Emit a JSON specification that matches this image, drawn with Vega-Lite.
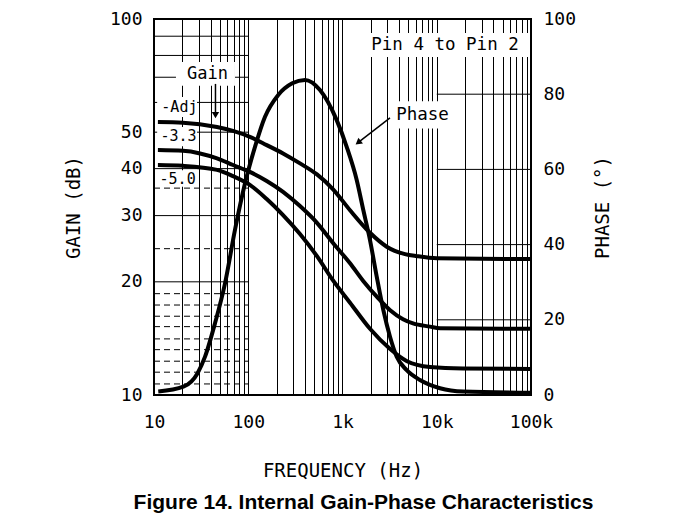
{
  "$schema": "https://vega.github.io/schema/vega-lite/v6.json",
  "autosize": {"type": "none"},
  "width": 377,
  "height": 376,
  "padding": {"left": 154, "top": 19, "right": 142, "bottom": 122},
  "background": "white",
  "config": {
    "view": {"stroke": "black", "strokeWidth": 2},
    "axis": {
      "labelFont": "DejaVu Sans Mono",
      "labelFontSize": 18,
      "labelColor": "black",
      "titleFont": "DejaVu Sans Mono",
      "titleFontSize": 19,
      "titleFontWeight": "normal",
      "titleColor": "black",
      "ticks": false,
      "domain": false
    }
  },
  "title": {
    "text": "Figure 14. Internal Gain-Phase Characteristics",
    "orient": "bottom",
    "anchor": "middle",
    "font": "Liberation Sans",
    "fontWeight": "bold",
    "fontSize": 21,
    "color": "black",
    "offset": 12,
    "dx": 21
  },
  "datasets": {
    "gain": [
      {"series": "Adj", "f": 11, "g": 53.2},
      {"series": "Adj", "f": 20.3, "g": 53.0},
      {"series": "Adj", "f": 46.6, "g": 51.6},
      {"series": "Adj", "f": 68.9, "g": 50.4},
      {"series": "Adj", "f": 104, "g": 48.6},
      {"series": "Adj", "f": 157, "g": 46.2},
      {"series": "Adj", "f": 234, "g": 43.9},
      {"series": "Adj", "f": 354, "g": 41.3},
      {"series": "Adj", "f": 536, "g": 38.6},
      {"series": "Adj", "f": 790, "g": 35.3},
      {"series": "Adj", "f": 1202, "g": 31.0},
      {"series": "Adj", "f": 1958, "g": 27.0},
      {"series": "Adj", "f": 2944, "g": 24.8},
      {"series": "Adj", "f": 4603, "g": 23.7},
      {"series": "Adj", "f": 6173, "g": 23.4},
      {"series": "Adj", "f": 10000, "g": 23.1},
      {"series": "Adj", "f": 100000, "g": 23.0},
      {"series": "-3.3", "f": 11, "g": 44.8},
      {"series": "-3.3", "f": 20.3, "g": 44.6},
      {"series": "-3.3", "f": 30.8, "g": 43.9},
      {"series": "-3.3", "f": 46.6, "g": 42.6},
      {"series": "-3.3", "f": 68.9, "g": 40.9},
      {"series": "-3.3", "f": 104, "g": 39.2},
      {"series": "-3.3", "f": 157, "g": 37.1},
      {"series": "-3.3", "f": 234, "g": 34.7},
      {"series": "-3.3", "f": 354, "g": 31.8},
      {"series": "-3.3", "f": 536, "g": 28.7},
      {"series": "-3.3", "f": 790, "g": 25.4},
      {"series": "-3.3", "f": 1202, "g": 22.4},
      {"series": "-3.3", "f": 1659, "g": 20.1},
      {"series": "-3.3", "f": 2336, "g": 18.2},
      {"series": "-3.3", "f": 3202, "g": 16.8},
      {"series": "-3.3", "f": 4389, "g": 15.9},
      {"series": "-3.3", "f": 5600, "g": 15.5},
      {"series": "-3.3", "f": 8485, "g": 15.2},
      {"series": "-3.3", "f": 10830, "g": 15.05},
      {"series": "-3.3", "f": 100000, "g": 15.0},
      {"series": "-5.0", "f": 11, "g": 40.9},
      {"series": "-5.0", "f": 20.3, "g": 40.7},
      {"series": "-5.0", "f": 46.6, "g": 39.7},
      {"series": "-5.0", "f": 68.9, "g": 38.2},
      {"series": "-5.0", "f": 104, "g": 36.2},
      {"series": "-5.0", "f": 157, "g": 33.2},
      {"series": "-5.0", "f": 234, "g": 30.1},
      {"series": "-5.0", "f": 354, "g": 26.8},
      {"series": "-5.0", "f": 536, "g": 23.4},
      {"series": "-5.0", "f": 790, "g": 20.2},
      {"series": "-5.0", "f": 1202, "g": 17.6},
      {"series": "-5.0", "f": 1958, "g": 15.0},
      {"series": "-5.0", "f": 3202, "g": 13.25},
      {"series": "-5.0", "f": 4831, "g": 12.3},
      {"series": "-5.0", "f": 8485, "g": 11.87},
      {"series": "-5.0", "f": 19040, "g": 11.76},
      {"series": "-5.0", "f": 100000, "g": 11.73}
    ],
    "phase": [
      {"f": 11.1, "p": 0.9},
      {"f": 20.5, "p": 2.2},
      {"f": 29, "p": 5.8},
      {"f": 34.8, "p": 10.2},
      {"f": 44.4, "p": 19.1},
      {"f": 56.7, "p": 29.7},
      {"f": 72.3, "p": 43.9},
      {"f": 92.4, "p": 56.3},
      {"f": 117.9, "p": 66.0},
      {"f": 150.6, "p": 74.0},
      {"f": 208, "p": 79.8},
      {"f": 293, "p": 82.9},
      {"f": 400, "p": 83.8},
      {"f": 577, "p": 81.1},
      {"f": 868, "p": 73.1},
      {"f": 1108, "p": 66.0},
      {"f": 1415, "p": 57.2},
      {"f": 1662, "p": 49.2},
      {"f": 1958, "p": 41.2},
      {"f": 2307, "p": 31.5},
      {"f": 2711, "p": 22.6},
      {"f": 3192, "p": 15.5},
      {"f": 3758, "p": 10.2},
      {"f": 4800, "p": 6.6},
      {"f": 6637, "p": 4.0},
      {"f": 10830, "p": 1.8},
      {"f": 19150, "p": 0.9},
      {"f": 100000, "p": 0.6}
    ],
    "gridSolid": [{"f": 10, "f2": 100, "g": 20}, {"f": 10, "f2": 100, "g": 30}, {"f": 10, "f2": 100, "g": 40}, {"f": 10, "f2": 100, "g": 50}, {"f": 10, "f2": 100, "g": 60}, {"f": 10, "f2": 100, "g": 70}, {"f": 10, "f2": 100, "g": 80}, {"f": 10, "f2": 100, "g": 90}],
    "gridDashed": [{"f": 10, "f2": 100, "g": 35.5}, {"f": 10, "f2": 100, "g": 24.5}, {"f": 10, "f2": 100, "g": 18.6}, {"f": 10, "f2": 100, "g": 17.35}, {"f": 10, "f2": 100, "g": 16.2}, {"f": 10, "f2": 100, "g": 15.2}, {"f": 10, "f2": 100, "g": 14.1}, {"f": 10, "f2": 100, "g": 13.2}, {"f": 10, "f2": 100, "g": 12.3}, {"f": 10, "f2": 100, "g": 11.5}, {"f": 10, "f2": 100, "g": 10.7}],
    "gridPhase": [{"f": 10000, "f2": 100000, "p": 20}, {"f": 10000, "f2": 100000, "p": 40}, {"f": 10000, "f2": 100000, "p": 60}, {"f": 10000, "f2": 100000, "p": 80}],
    "boxG": [
      {"f": 17.1, "f2": 72.3, "g": 66.4, "g2": 76.8},
      {"f": 10.8, "f2": 28.6, "g": 54.9, "g2": 62.0},
      {"f": 10.8, "f2": 28.6, "g": 45.9, "g2": 51.6},
      {"f": 10.8, "f2": 28.6, "g": 35.8, "g2": 39.6}
    ],
    "boxP": [
      {"f": 1776, "f2": 95300, "p": 89.9, "p2": 96.3},
      {"f": 3270, "f2": 14520, "p": 70.9, "p2": 78.1}
    ],
    "labelsBig": [{"t": "Gain", "f": 36.9, "g": 71.2}],
    "labelsSmall": [
      {"t": "-Adj", "f": 18.6, "g": 58.2},
      {"t": "-3.3", "f": 18.2, "g": 48.7},
      {"t": "-5.0", "f": 17.8, "g": 37.6}
    ],
    "labelsP": [
      {"t": "Pin 4 to Pin 2", "f": 12230, "p": 93.1},
      {"t": "Phase", "f": 7063, "p": 74.5}
    ],
    "arrowG": [{"f": 44.9, "g": 67.2, "f2": 44.9, "g2": 55.5}],
    "arrowP": [{"f": 3192, "p": 73.7, "f2": 1496, "p2": 67.3}]
  },
  "layer": [
    {
      "layer": [
        {
          "data": {"name": "gridSolid"},
          "mark": {"type": "rule", "color": "black", "strokeWidth": 1},
          "encoding": {
            "x": {"field": "f", "type": "quantitative", "scale": {"type": "log", "domain": [10, 100000], "nice": false}, "axis": {"title": "FREQUENCY (Hz)", "values": [10, 20, 30, 40, 50, 60, 70, 80, 90, 100, 200, 300, 400, 500, 600, 700, 800, 900, 1000, 2000, 3000, 4000, 5000, 6000, 7000, 8000, 9000, 10000, 20000, 30000, 40000, 50000, 60000, 70000, 80000, 90000, 100000], "labelExpr": "datum.value == 10 ? '10' : datum.value == 100 ? '100' : datum.value == 1000 ? '1k' : datum.value == 10000 ? '10k' : datum.value == 100000 ? '100k' : ''", "labelOverlap": false, "labelFlush": false, "labelBound": false, "grid": true, "gridColor": "black", "gridOpacity": 1, "gridWidth": 1, "labelPadding": 18, "titlePadding": 30}},
            "x2": {"field": "f2"},
            "y": {"field": "g", "type": "quantitative", "scale": {"type": "log", "domain": [10, 100], "nice": false}, "axis": {"title": "GAIN (dB)", "values": [10, 20, 30, 40, 50, 100], "format": "d", "grid": false, "labelPadding": 12, "titlePadding": 26}}
          }
        },
        {
          "data": {"name": "gridDashed"},
          "mark": {"type": "rule", "color": "black", "strokeWidth": 1, "strokeDash": [6, 4]},
          "encoding": {
            "x": {"field": "f", "type": "quantitative", "scale": {"type": "log", "domain": [10, 100000], "nice": false}, "axis": {"title": "FREQUENCY (Hz)", "values": [10, 20, 30, 40, 50, 60, 70, 80, 90, 100, 200, 300, 400, 500, 600, 700, 800, 900, 1000, 2000, 3000, 4000, 5000, 6000, 7000, 8000, 9000, 10000, 20000, 30000, 40000, 50000, 60000, 70000, 80000, 90000, 100000], "labelExpr": "datum.value == 10 ? '10' : datum.value == 100 ? '100' : datum.value == 1000 ? '1k' : datum.value == 10000 ? '10k' : datum.value == 100000 ? '100k' : ''", "labelOverlap": false, "labelFlush": false, "labelBound": false, "grid": true, "gridColor": "black", "gridOpacity": 1, "gridWidth": 1, "labelPadding": 18, "titlePadding": 30}},
            "x2": {"field": "f2"},
            "y": {"field": "g", "type": "quantitative", "scale": {"type": "log", "domain": [10, 100], "nice": false}, "axis": {"title": "GAIN (dB)", "values": [10, 20, 30, 40, 50, 100], "format": "d", "grid": false, "labelPadding": 12, "titlePadding": 26}}
          }
        },
        {
          "data": {"name": "boxG"},
          "mark": {"type": "rect", "fill": "white"},
          "encoding": {
            "x": {"field": "f", "type": "quantitative", "scale": {"type": "log", "domain": [10, 100000], "nice": false}, "axis": {"title": "FREQUENCY (Hz)", "values": [10, 20, 30, 40, 50, 60, 70, 80, 90, 100, 200, 300, 400, 500, 600, 700, 800, 900, 1000, 2000, 3000, 4000, 5000, 6000, 7000, 8000, 9000, 10000, 20000, 30000, 40000, 50000, 60000, 70000, 80000, 90000, 100000], "labelExpr": "datum.value == 10 ? '10' : datum.value == 100 ? '100' : datum.value == 1000 ? '1k' : datum.value == 10000 ? '10k' : datum.value == 100000 ? '100k' : ''", "labelOverlap": false, "labelFlush": false, "labelBound": false, "grid": true, "gridColor": "black", "gridOpacity": 1, "gridWidth": 1, "labelPadding": 18, "titlePadding": 30}},
            "x2": {"field": "f2"},
            "y": {"field": "g", "type": "quantitative", "scale": {"type": "log", "domain": [10, 100], "nice": false}, "axis": {"title": "GAIN (dB)", "values": [10, 20, 30, 40, 50, 100], "format": "d", "grid": false, "labelPadding": 12, "titlePadding": 26}},
            "y2": {"field": "g2"}
          }
        },
        {
          "data": {"name": "labelsBig"},
          "mark": {"type": "text", "font": "DejaVu Sans Mono", "fontSize": 17, "color": "black", "align": "center", "baseline": "middle"},
          "encoding": {
            "x": {"field": "f", "type": "quantitative", "scale": {"type": "log", "domain": [10, 100000], "nice": false}, "axis": {"title": "FREQUENCY (Hz)", "values": [10, 20, 30, 40, 50, 60, 70, 80, 90, 100, 200, 300, 400, 500, 600, 700, 800, 900, 1000, 2000, 3000, 4000, 5000, 6000, 7000, 8000, 9000, 10000, 20000, 30000, 40000, 50000, 60000, 70000, 80000, 90000, 100000], "labelExpr": "datum.value == 10 ? '10' : datum.value == 100 ? '100' : datum.value == 1000 ? '1k' : datum.value == 10000 ? '10k' : datum.value == 100000 ? '100k' : ''", "labelOverlap": false, "labelFlush": false, "labelBound": false, "grid": true, "gridColor": "black", "gridOpacity": 1, "gridWidth": 1, "labelPadding": 18, "titlePadding": 30}},
            "y": {"field": "g", "type": "quantitative", "scale": {"type": "log", "domain": [10, 100], "nice": false}, "axis": {"title": "GAIN (dB)", "values": [10, 20, 30, 40, 50, 100], "format": "d", "grid": false, "labelPadding": 12, "titlePadding": 26}},
            "text": {"field": "t"}
          }
        },
        {
          "data": {"name": "labelsSmall"},
          "mark": {"type": "text", "font": "DejaVu Sans Mono", "fontSize": 15, "color": "black", "align": "center", "baseline": "middle"},
          "encoding": {
            "x": {"field": "f", "type": "quantitative", "scale": {"type": "log", "domain": [10, 100000], "nice": false}, "axis": {"title": "FREQUENCY (Hz)", "values": [10, 20, 30, 40, 50, 60, 70, 80, 90, 100, 200, 300, 400, 500, 600, 700, 800, 900, 1000, 2000, 3000, 4000, 5000, 6000, 7000, 8000, 9000, 10000, 20000, 30000, 40000, 50000, 60000, 70000, 80000, 90000, 100000], "labelExpr": "datum.value == 10 ? '10' : datum.value == 100 ? '100' : datum.value == 1000 ? '1k' : datum.value == 10000 ? '10k' : datum.value == 100000 ? '100k' : ''", "labelOverlap": false, "labelFlush": false, "labelBound": false, "grid": true, "gridColor": "black", "gridOpacity": 1, "gridWidth": 1, "labelPadding": 18, "titlePadding": 30}},
            "y": {"field": "g", "type": "quantitative", "scale": {"type": "log", "domain": [10, 100], "nice": false}, "axis": {"title": "GAIN (dB)", "values": [10, 20, 30, 40, 50, 100], "format": "d", "grid": false, "labelPadding": 12, "titlePadding": 26}},
            "text": {"field": "t"}
          }
        },
        {
          "data": {"name": "arrowG"},
          "mark": {"type": "rule", "color": "black", "strokeWidth": 1.5},
          "encoding": {
            "x": {"field": "f", "type": "quantitative", "scale": {"type": "log", "domain": [10, 100000], "nice": false}, "axis": {"title": "FREQUENCY (Hz)", "values": [10, 20, 30, 40, 50, 60, 70, 80, 90, 100, 200, 300, 400, 500, 600, 700, 800, 900, 1000, 2000, 3000, 4000, 5000, 6000, 7000, 8000, 9000, 10000, 20000, 30000, 40000, 50000, 60000, 70000, 80000, 90000, 100000], "labelExpr": "datum.value == 10 ? '10' : datum.value == 100 ? '100' : datum.value == 1000 ? '1k' : datum.value == 10000 ? '10k' : datum.value == 100000 ? '100k' : ''", "labelOverlap": false, "labelFlush": false, "labelBound": false, "grid": true, "gridColor": "black", "gridOpacity": 1, "gridWidth": 1, "labelPadding": 18, "titlePadding": 30}},
            "x2": {"field": "f2"},
            "y": {"field": "g", "type": "quantitative", "scale": {"type": "log", "domain": [10, 100], "nice": false}, "axis": {"title": "GAIN (dB)", "values": [10, 20, 30, 40, 50, 100], "format": "d", "grid": false, "labelPadding": 12, "titlePadding": 26}},
            "y2": {"field": "g2"}
          }
        },
        {
          "data": {"name": "arrowG"},
          "mark": {"type": "point", "shape": "triangle-down", "filled": true, "color": "black", "size": 55, "opacity": 1},
          "encoding": {
            "x": {"field": "f2", "type": "quantitative", "scale": {"type": "log", "domain": [10, 100000], "nice": false}, "axis": {"title": "FREQUENCY (Hz)", "values": [10, 20, 30, 40, 50, 60, 70, 80, 90, 100, 200, 300, 400, 500, 600, 700, 800, 900, 1000, 2000, 3000, 4000, 5000, 6000, 7000, 8000, 9000, 10000, 20000, 30000, 40000, 50000, 60000, 70000, 80000, 90000, 100000], "labelExpr": "datum.value == 10 ? '10' : datum.value == 100 ? '100' : datum.value == 1000 ? '1k' : datum.value == 10000 ? '10k' : datum.value == 100000 ? '100k' : ''", "labelOverlap": false, "labelFlush": false, "labelBound": false, "grid": true, "gridColor": "black", "gridOpacity": 1, "gridWidth": 1, "labelPadding": 18, "titlePadding": 30}},
            "y": {"field": "g2", "type": "quantitative", "scale": {"type": "log", "domain": [10, 100], "nice": false}, "axis": {"title": "GAIN (dB)", "values": [10, 20, 30, 40, 50, 100], "format": "d", "grid": false, "labelPadding": 12, "titlePadding": 26}}
          }
        },
        {
          "data": {"name": "gain"},
          "mark": {"type": "line", "color": "black", "strokeWidth": 4, "interpolate": "monotone"},
          "encoding": {
            "x": {"field": "f", "type": "quantitative", "scale": {"type": "log", "domain": [10, 100000], "nice": false}, "axis": {"title": "FREQUENCY (Hz)", "values": [10, 20, 30, 40, 50, 60, 70, 80, 90, 100, 200, 300, 400, 500, 600, 700, 800, 900, 1000, 2000, 3000, 4000, 5000, 6000, 7000, 8000, 9000, 10000, 20000, 30000, 40000, 50000, 60000, 70000, 80000, 90000, 100000], "labelExpr": "datum.value == 10 ? '10' : datum.value == 100 ? '100' : datum.value == 1000 ? '1k' : datum.value == 10000 ? '10k' : datum.value == 100000 ? '100k' : ''", "labelOverlap": false, "labelFlush": false, "labelBound": false, "grid": true, "gridColor": "black", "gridOpacity": 1, "gridWidth": 1, "labelPadding": 18, "titlePadding": 30}},
            "y": {"field": "g", "type": "quantitative", "scale": {"type": "log", "domain": [10, 100], "nice": false}, "axis": {"title": "GAIN (dB)", "values": [10, 20, 30, 40, 50, 100], "format": "d", "grid": false, "labelPadding": 12, "titlePadding": 26}},
            "detail": {"field": "series"}
          }
        }
      ]
    },
    {
      "layer": [
        {
          "data": {"name": "gridPhase"},
          "mark": {"type": "rule", "color": "black", "strokeWidth": 1},
          "encoding": {
            "x": {"field": "f", "type": "quantitative", "scale": {"type": "log", "domain": [10, 100000], "nice": false}, "axis": {"title": "FREQUENCY (Hz)", "values": [10, 20, 30, 40, 50, 60, 70, 80, 90, 100, 200, 300, 400, 500, 600, 700, 800, 900, 1000, 2000, 3000, 4000, 5000, 6000, 7000, 8000, 9000, 10000, 20000, 30000, 40000, 50000, 60000, 70000, 80000, 90000, 100000], "labelExpr": "datum.value == 10 ? '10' : datum.value == 100 ? '100' : datum.value == 1000 ? '1k' : datum.value == 10000 ? '10k' : datum.value == 100000 ? '100k' : ''", "labelOverlap": false, "labelFlush": false, "labelBound": false, "grid": true, "gridColor": "black", "gridOpacity": 1, "gridWidth": 1, "labelPadding": 18, "titlePadding": 30}},
            "x2": {"field": "f2"},
            "y": {"field": "p", "type": "quantitative", "scale": {"domain": [0, 100], "nice": false}, "axis": {"orient": "right", "title": "PHASE (°)", "values": [0, 20, 40, 60, 80, 100], "grid": false, "labelPadding": 12, "titleAngle": -90, "titleBaseline": "top", "titlePadding": 18}}
          }
        },
        {
          "data": {"name": "boxP"},
          "mark": {"type": "rect", "fill": "white"},
          "encoding": {
            "x": {"field": "f", "type": "quantitative", "scale": {"type": "log", "domain": [10, 100000], "nice": false}, "axis": {"title": "FREQUENCY (Hz)", "values": [10, 20, 30, 40, 50, 60, 70, 80, 90, 100, 200, 300, 400, 500, 600, 700, 800, 900, 1000, 2000, 3000, 4000, 5000, 6000, 7000, 8000, 9000, 10000, 20000, 30000, 40000, 50000, 60000, 70000, 80000, 90000, 100000], "labelExpr": "datum.value == 10 ? '10' : datum.value == 100 ? '100' : datum.value == 1000 ? '1k' : datum.value == 10000 ? '10k' : datum.value == 100000 ? '100k' : ''", "labelOverlap": false, "labelFlush": false, "labelBound": false, "grid": true, "gridColor": "black", "gridOpacity": 1, "gridWidth": 1, "labelPadding": 18, "titlePadding": 30}},
            "x2": {"field": "f2"},
            "y": {"field": "p", "type": "quantitative", "scale": {"domain": [0, 100], "nice": false}, "axis": {"orient": "right", "title": "PHASE (°)", "values": [0, 20, 40, 60, 80, 100], "grid": false, "labelPadding": 12, "titleAngle": -90, "titleBaseline": "top", "titlePadding": 18}},
            "y2": {"field": "p2"}
          }
        },
        {
          "data": {"name": "labelsP"},
          "mark": {"type": "text", "font": "DejaVu Sans Mono", "fontSize": 17.5, "color": "black", "align": "center", "baseline": "middle"},
          "encoding": {
            "x": {"field": "f", "type": "quantitative", "scale": {"type": "log", "domain": [10, 100000], "nice": false}, "axis": {"title": "FREQUENCY (Hz)", "values": [10, 20, 30, 40, 50, 60, 70, 80, 90, 100, 200, 300, 400, 500, 600, 700, 800, 900, 1000, 2000, 3000, 4000, 5000, 6000, 7000, 8000, 9000, 10000, 20000, 30000, 40000, 50000, 60000, 70000, 80000, 90000, 100000], "labelExpr": "datum.value == 10 ? '10' : datum.value == 100 ? '100' : datum.value == 1000 ? '1k' : datum.value == 10000 ? '10k' : datum.value == 100000 ? '100k' : ''", "labelOverlap": false, "labelFlush": false, "labelBound": false, "grid": true, "gridColor": "black", "gridOpacity": 1, "gridWidth": 1, "labelPadding": 18, "titlePadding": 30}},
            "y": {"field": "p", "type": "quantitative", "scale": {"domain": [0, 100], "nice": false}, "axis": {"orient": "right", "title": "PHASE (°)", "values": [0, 20, 40, 60, 80, 100], "grid": false, "labelPadding": 12, "titleAngle": -90, "titleBaseline": "top", "titlePadding": 18}},
            "text": {"field": "t"}
          }
        },
        {
          "data": {"name": "arrowP"},
          "mark": {"type": "rule", "color": "black", "strokeWidth": 1.5},
          "encoding": {
            "x": {"field": "f", "type": "quantitative", "scale": {"type": "log", "domain": [10, 100000], "nice": false}, "axis": {"title": "FREQUENCY (Hz)", "values": [10, 20, 30, 40, 50, 60, 70, 80, 90, 100, 200, 300, 400, 500, 600, 700, 800, 900, 1000, 2000, 3000, 4000, 5000, 6000, 7000, 8000, 9000, 10000, 20000, 30000, 40000, 50000, 60000, 70000, 80000, 90000, 100000], "labelExpr": "datum.value == 10 ? '10' : datum.value == 100 ? '100' : datum.value == 1000 ? '1k' : datum.value == 10000 ? '10k' : datum.value == 100000 ? '100k' : ''", "labelOverlap": false, "labelFlush": false, "labelBound": false, "grid": true, "gridColor": "black", "gridOpacity": 1, "gridWidth": 1, "labelPadding": 18, "titlePadding": 30}},
            "x2": {"field": "f2"},
            "y": {"field": "p", "type": "quantitative", "scale": {"domain": [0, 100], "nice": false}, "axis": {"orient": "right", "title": "PHASE (°)", "values": [0, 20, 40, 60, 80, 100], "grid": false, "labelPadding": 12, "titleAngle": -90, "titleBaseline": "top", "titlePadding": 18}},
            "y2": {"field": "p2"}
          }
        },
        {
          "data": {"name": "arrowP"},
          "mark": {"type": "point", "shape": "triangle", "angle": 232, "filled": true, "color": "black", "size": 55, "opacity": 1},
          "encoding": {
            "x": {"field": "f2", "type": "quantitative", "scale": {"type": "log", "domain": [10, 100000], "nice": false}, "axis": {"title": "FREQUENCY (Hz)", "values": [10, 20, 30, 40, 50, 60, 70, 80, 90, 100, 200, 300, 400, 500, 600, 700, 800, 900, 1000, 2000, 3000, 4000, 5000, 6000, 7000, 8000, 9000, 10000, 20000, 30000, 40000, 50000, 60000, 70000, 80000, 90000, 100000], "labelExpr": "datum.value == 10 ? '10' : datum.value == 100 ? '100' : datum.value == 1000 ? '1k' : datum.value == 10000 ? '10k' : datum.value == 100000 ? '100k' : ''", "labelOverlap": false, "labelFlush": false, "labelBound": false, "grid": true, "gridColor": "black", "gridOpacity": 1, "gridWidth": 1, "labelPadding": 18, "titlePadding": 30}},
            "y": {"field": "p2", "type": "quantitative", "scale": {"domain": [0, 100], "nice": false}, "axis": {"orient": "right", "title": "PHASE (°)", "values": [0, 20, 40, 60, 80, 100], "grid": false, "labelPadding": 12, "titleAngle": -90, "titleBaseline": "top", "titlePadding": 18}}
          }
        },
        {
          "data": {"name": "phase"},
          "mark": {"type": "line", "color": "black", "strokeWidth": 4, "interpolate": "monotone"},
          "encoding": {
            "x": {"field": "f", "type": "quantitative", "scale": {"type": "log", "domain": [10, 100000], "nice": false}, "axis": {"title": "FREQUENCY (Hz)", "values": [10, 20, 30, 40, 50, 60, 70, 80, 90, 100, 200, 300, 400, 500, 600, 700, 800, 900, 1000, 2000, 3000, 4000, 5000, 6000, 7000, 8000, 9000, 10000, 20000, 30000, 40000, 50000, 60000, 70000, 80000, 90000, 100000], "labelExpr": "datum.value == 10 ? '10' : datum.value == 100 ? '100' : datum.value == 1000 ? '1k' : datum.value == 10000 ? '10k' : datum.value == 100000 ? '100k' : ''", "labelOverlap": false, "labelFlush": false, "labelBound": false, "grid": true, "gridColor": "black", "gridOpacity": 1, "gridWidth": 1, "labelPadding": 18, "titlePadding": 30}},
            "y": {"field": "p", "type": "quantitative", "scale": {"domain": [0, 100], "nice": false}, "axis": {"orient": "right", "title": "PHASE (°)", "values": [0, 20, 40, 60, 80, 100], "grid": false, "labelPadding": 12, "titleAngle": -90, "titleBaseline": "top", "titlePadding": 18}}
          }
        }
      ]
    }
  ],
  "resolve": {"scale": {"y": "independent"}, "axis": {"y": "independent"}}
}
